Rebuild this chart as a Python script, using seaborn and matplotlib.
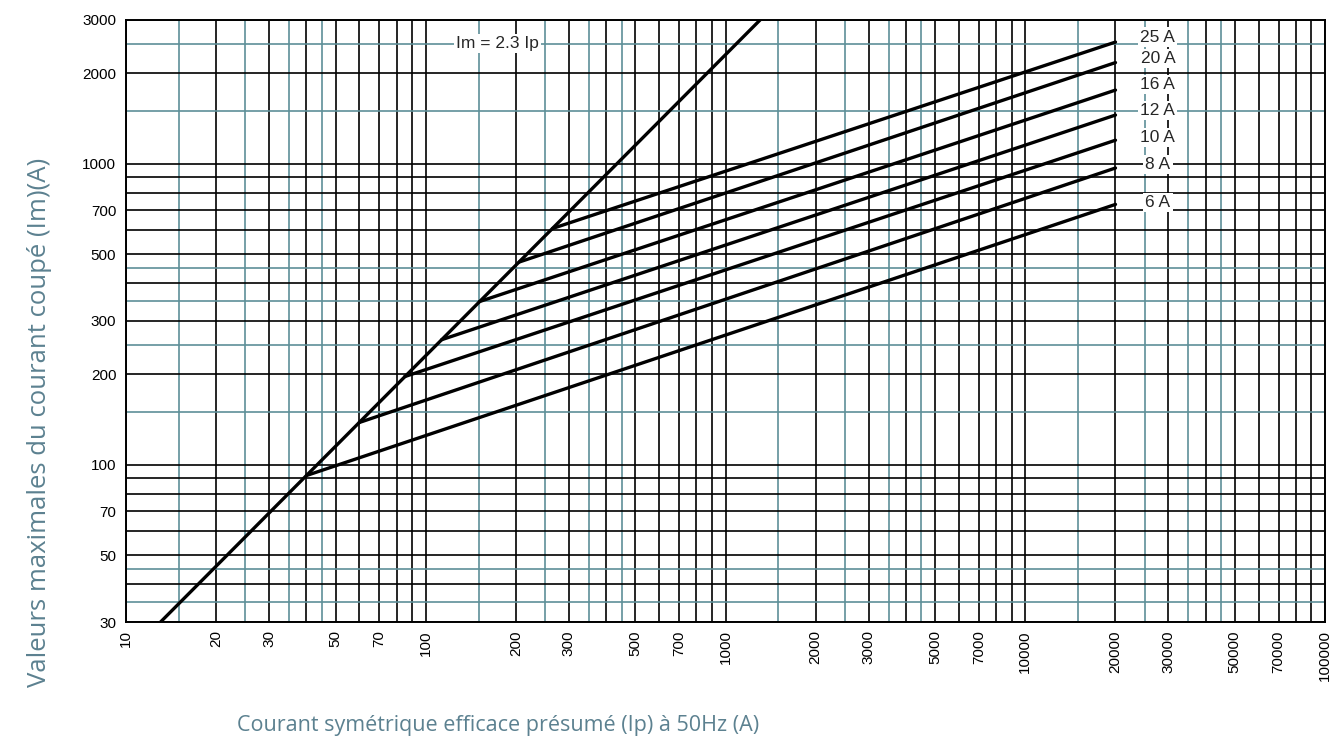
import numpy as np
import pandas as pd
import matplotlib
matplotlib.use("Agg")
import matplotlib.pyplot as plt
import matplotlib.ticker as mticker
import seaborn as sns

# ─── Data ────────────────────────────────────────────────────────────────────
fuse_names = ["6 A", "8 A", "10 A", "12 A", "16 A", "20 A", "25 A"]
start_ip   = [40, 60, 85, 113, 151, 205, 265]          # point on Im = 2.3 Ip
start_im   = [92, 138, 196, 260, 348, 471, 609]
end_ip     = [20000, 20000, 20000, 20000, 20000, 20000, 20000]
end_im     = [732, 967, 1196, 1450, 1755, 2166, 2534]
label_im   = [745, 996, 1224, 1504, 1837, 2237, 2633]

diag_ip = [13.04, 1304]
diag_im = [30, 3000]

x_major  = [10, 20, 30, 40, 50, 60, 70, 80, 90,
            100, 200, 300, 400, 500, 600, 700, 800, 900,
            1000, 2000, 3000, 4000, 5000, 6000, 7000, 8000, 9000,
            10000, 20000, 30000, 40000, 50000, 60000, 70000, 80000, 90000, 100000]
x_minor  = [15, 25, 35, 45, 150, 250, 350, 450, 1500, 2500, 3500, 4500,
            15000, 25000, 35000, 45000]
x_labels = [10, 20, 30, 50, 70, 100, 200, 300, 500, 700, 1000, 2000, 3000,
            5000, 7000, 10000, 20000, 30000, 50000, 70000, 100000]

y_major  = [30, 40, 50, 60, 70, 80, 90, 100, 200, 300, 400, 500, 600, 700,
            800, 900, 1000, 2000, 3000]
y_minor  = [35, 45, 150, 250, 350, 450, 1500, 2500]
y_labels = [30, 50, 70, 100, 200, 300, 500, 700, 1000, 2000, 3000]

TEAL  = "#5e8f98"
LABEL = "#5c8190"

rows = []
for name, x0, y0, x1, y1 in zip(fuse_names, start_ip, start_im, end_ip, end_im):
    rows.append({"fuse": name, "Ip": x0, "Im": y0})
    rows.append({"fuse": name, "Ip": x1, "Im": y1})
df = pd.DataFrame(rows)
diag = pd.DataFrame({"Ip": diag_ip, "Im": diag_im})

# ─── Figure ─────────────────────────────────────────────────────────────────
sns.set_style("white")
plt.rcParams["font.family"] = ["Liberation Sans", "DejaVu Sans"]

fig = plt.figure(figsize=(13.31, 7.38), dpi=100)
ax = fig.add_axes([126 / 1331, 116 / 738, 1199 / 1331, 602 / 738])
ax.set_xscale("log")
ax.set_yscale("log")
ax.set_xlim(10, 100000)
ax.set_ylim(30, 3000)

ax.xaxis.set_major_locator(mticker.FixedLocator(x_major))
ax.xaxis.set_minor_locator(mticker.FixedLocator(x_minor))
ax.yaxis.set_major_locator(mticker.FixedLocator(y_major))
ax.yaxis.set_minor_locator(mticker.FixedLocator(y_minor))
ax.xaxis.set_major_formatter(mticker.FuncFormatter(
    lambda v, _: f"{v:.0f}" if round(v) in x_labels else ""))
ax.yaxis.set_major_formatter(mticker.FuncFormatter(
    lambda v, _: f"{v:.0f}" if round(v) in y_labels else ""))
ax.xaxis.set_minor_formatter(mticker.NullFormatter())
ax.yaxis.set_minor_formatter(mticker.NullFormatter())
ax.tick_params(which="both", length=0, labelsize=11, colors="black")
ax.tick_params(axis="x", rotation=90, pad=6)
ax.tick_params(axis="y", pad=7)

ax.grid(which="major", color="black", linewidth=1.2)
ax.grid(which="minor", color=TEAL, linewidth=1.2)
ax.set_axisbelow(True)
for s in ax.spines.values():
    s.set_color("black")
    s.set_linewidth(1.4)

sns.lineplot(data=diag, x="Ip", y="Im", color="black", linewidth=2.4,
             estimator=None, sort=False, ax=ax)
sns.lineplot(data=df, x="Ip", y="Im", hue="fuse", units="fuse",
             palette=["black"] * len(fuse_names), linewidth=2.4,
             estimator=None, sort=False, legend=False, ax=ax)
ax.set_xlabel("")
ax.set_ylabel("")

for name, y in zip(fuse_names, label_im):
    ax.text(27700, y, name, ha="center", va="center", fontsize=12.5,
            bbox=dict(facecolor="white", edgecolor="none", pad=1.5), zorder=5)
ax.text(174, 2500, "Im = 2.3 Ip", ha="center", va="center", fontsize=12.5,
        bbox=dict(facecolor="white", edgecolor="none", pad=1.5), zorder=5)

fig.text(498 / 1331, 1 - 725 / 738,
         "Courant symétrique efficace présumé (Ip) à 50Hz (A)",
         ha="center", va="center", fontsize=15.5, color=LABEL,
         family=["Open Sans", "DejaVu Sans"])
fig.text(40 / 1331, 1 - 422 / 738,
         "Valeurs maximales du courant coupé (Im)(A)",
         ha="center", va="center", rotation=90, fontsize=18.5, color=LABEL,
         family=["Open Sans", "DejaVu Sans"])

fig.savefig("out.png", dpi=100, facecolor="white")
